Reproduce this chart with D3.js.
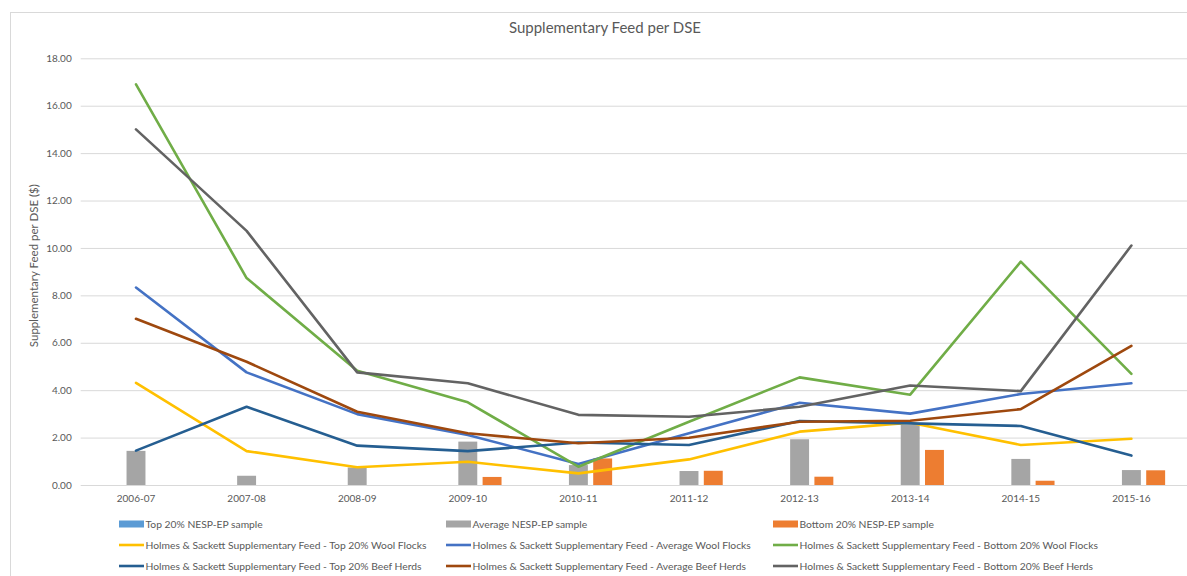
<!DOCTYPE html>
<html>
<head>
<meta charset="utf-8">
<script src="https://cdn.jsdelivr.net/npm/d3@7"></script>
<style>
  body { margin: 0; background: #fff; }
  svg { display: block; font-family: Lato, "Open Sans", sans-serif; }
</style>
</head>
<body>
<svg width="1187" height="576"></svg>
<script>
var categories = ["2006-07","2007-08","2008-09","2009-10","2010-11","2011-12","2012-13","2013-14","2014-15","2015-16"];

// bar series
var top20Sample    = [0, 0, 0, 0, 0, 0, 0, 0, 0, 0];
var averageSample  = [1.44, 0.39, 0.74, 1.83, 0.84, 0.59, 1.93, 2.53, 1.10, 0.63];
var bottom20Sample = [0, 0, 0, 0.34, 1.12, 0.60, 0.35, 1.48, 0.18, 0.62];

// line series (Holmes & Sackett)
var top20Wool    = [4.31, 1.43, 0.75, 0.98, 0.49, 1.08, 2.25, 2.63, 1.69, 1.95];
var averageWool  = [8.33, 4.75, 2.99, 2.11, 0.89, 2.18, 3.47, 3.01, 3.84, 4.29];
var bottom20Wool = [16.9, 8.73, 4.82, 3.49, 0.77, 2.67, 4.54, 3.81, 9.42, 4.69];
var top20Beef    = [1.45, 3.30, 1.66, 1.43, 1.79, 1.69, 2.70, 2.60, 2.49, 1.24];
var averageBeef  = [7.01, 5.20, 3.09, 2.18, 1.76, 1.99, 2.67, 2.71, 3.20, 5.87];
var bottom20Beef = [15.0, 10.72, 4.75, 4.29, 2.96, 2.88, 3.30, 4.20, 3.96, 10.1];

var yTicks = [0, 2, 4, 6, 8, 10, 12, 14, 16, 18];

var bars = [
  {name: "Top 20% NESP-EP sample", values: top20Sample, color: "#5B9BD5"},
  {name: "Average NESP-EP sample", values: averageSample, color: "#A5A5A5"},
  {name: "Bottom 20% NESP-EP sample", values: bottom20Sample, color: "#ED7D31"}
];
var lines = [
  {name: "Holmes & Sackett Supplementary Feed - Top 20% Wool Flocks", values: top20Wool, color: "#FFC000"},
  {name: "Holmes & Sackett Supplementary Feed - Average Wool Flocks", values: averageWool, color: "#4472C4"},
  {name: "Holmes & Sackett Supplementary Feed - Bottom 20% Wool Flocks", values: bottom20Wool, color: "#70AD47"},
  {name: "Holmes & Sackett Supplementary Feed - Top 20% Beef Herds", values: top20Beef, color: "#255E91"},
  {name: "Holmes & Sackett Supplementary Feed - Average Beef Herds", values: averageBeef, color: "#9E480E"},
  {name: "Holmes & Sackett Supplementary Feed - Bottom 20% Beef Herds", values: bottom20Beef, color: "#636363"}
];

var svg = d3.select("svg");
var plot = {left: 80.7, right: 1186.7, top: 58.3, bottom: 485};

// chart frame
svg.append("rect")
  .attr("x", 10.5).attr("y", 12.5)
  .attr("width", 1200).attr("height", 600)
  .attr("fill", "none").attr("stroke", "#D9D9D9");

svg.append("text")
  .attr("x", 605).attr("y", 33)
  .attr("text-anchor", "middle")
  .attr("font-size", "15px").attr("fill", "#595959")
  .text("Supplementary Feed per DSE");

var x = d3.scaleBand().domain(categories)
  .range([plot.left, plot.right])
  .paddingInner(0.39).paddingOuter(0.195);
var xs = d3.scaleBand().domain(bars.map(function(d) { return d.name; }))
  .range([0, x.bandwidth()]).paddingInner(0.22);
var y = d3.scaleLinear().domain([0, 18]).range([plot.bottom, plot.top]);

// gridlines + y labels
var yAxis = svg.append("g")
  .attr("transform", "translate(" + plot.left + ",0)")
  .call(d3.axisLeft(y).tickValues(yTicks).tickFormat(d3.format(".2f"))
    .tickSize(-(plot.right - plot.left + 10)).tickPadding(9));
yAxis.select(".domain").remove();
yAxis.selectAll("line").attr("stroke", "#D9D9D9").attr("stroke-width", 1);
yAxis.selectAll("text").attr("fill", "#595959").attr("font-size", "10px")
  .attr("font-family", "Lato, sans-serif");

svg.append("text")
  .attr("transform", "translate(38," + ((plot.top + plot.bottom) / 2 - 6) + ") rotate(-90)")
  .attr("text-anchor", "middle")
  .attr("font-size", "11.5px").attr("fill", "#595959")
  .text("Supplementary Feed per DSE ($)");

// x labels
var xAxis = svg.append("g")
  .attr("transform", "translate(0," + plot.bottom + ")")
  .call(d3.axisBottom(x).tickSize(0).tickPadding(10));
xAxis.select(".domain").remove();
xAxis.selectAll("text").attr("fill", "#595959").attr("font-size", "10px")
  .attr("font-family", "Lato, sans-serif");

// bars
bars.forEach(function(s) {
  svg.append("g").selectAll("rect")
    .data(s.values.map(function(v, i) { return {cat: categories[i], v: v}; })
      .filter(function(d) { return d.v > 0; }))
    .enter().append("rect")
      .attr("x", function(d) { return x(d.cat) + xs(s.name); })
      .attr("width", xs.bandwidth())
      .attr("y", function(d) { return y(d.v); })
      .attr("height", function(d) { return y(0) - y(d.v); })
      .attr("fill", s.color);
});

// lines
var line = d3.line()
  .x(function(d, i) { return x(categories[i]) + x.bandwidth() / 2; })
  .y(function(d) { return y(d); });

lines.forEach(function(s) {
  svg.append("path")
    .datum(s.values)
    .attr("d", line)
    .attr("fill", "none")
    .attr("stroke", s.color)
    .attr("stroke-width", 2.6)
    .attr("stroke-linejoin", "round")
    .attr("stroke-linecap", "round");
});

// legend: 3 columns, filled row by row
var legendItems = bars.map(function(d) { return {name: d.name, color: d.color, type: "bar"}; })
  .concat(lines.map(function(d) { return {name: d.name, color: d.color, type: "line"}; }));
var colX = [119, 446, 773];
var rowY = [524, 545, 566];

var legend = svg.append("g").selectAll("g")
  .data(legendItems)
  .enter().append("g")
    .attr("transform", function(d, i) { return "translate(" + colX[i % 3] + "," + rowY[Math.floor(i / 3)] + ")"; });

legend.filter(function(d) { return d.type === "bar"; })
  .append("rect")
    .attr("x", 0).attr("y", -3.5).attr("width", 25).attr("height", 7)
    .attr("fill", function(d) { return d.color; });

legend.filter(function(d) { return d.type === "line"; })
  .append("line")
    .attr("x1", 0).attr("x2", 25).attr("y1", 0).attr("y2", 0)
    .attr("stroke", function(d) { return d.color; })
    .attr("stroke-width", 2.6);

legend.append("text")
  .attr("x", 26.5).attr("y", 3.6)
  .attr("font-size", "10.3px").attr("fill", "#595959")
  .text(function(d) { return d.name; });
</script>
</body>
</html>
